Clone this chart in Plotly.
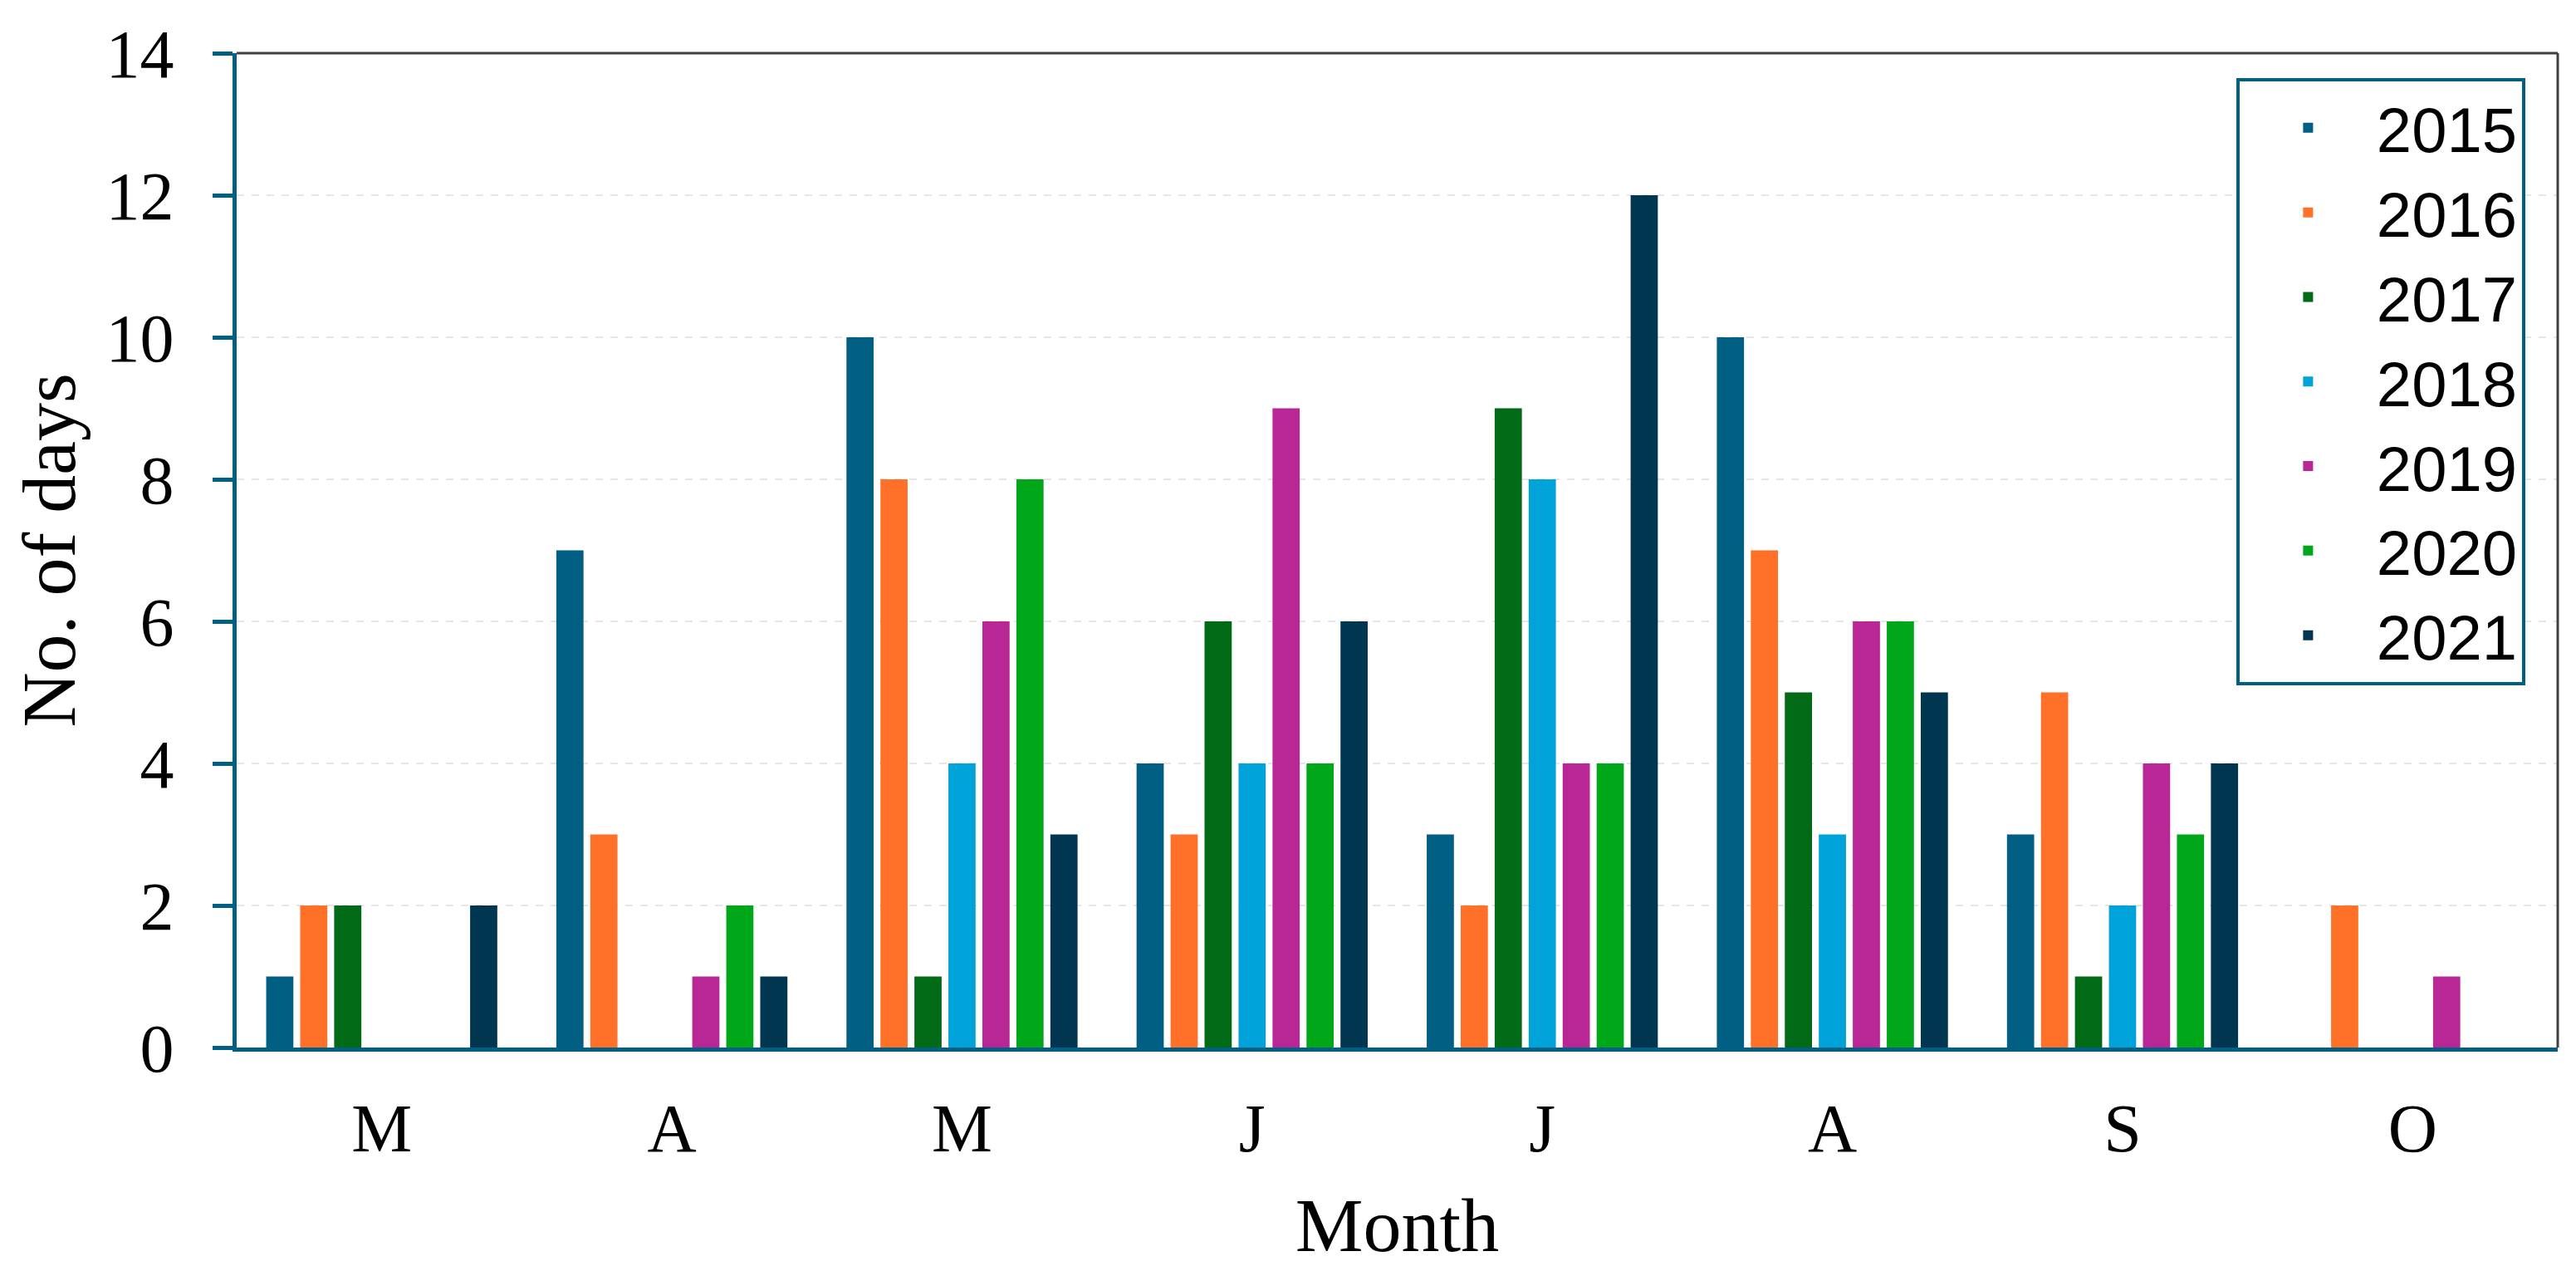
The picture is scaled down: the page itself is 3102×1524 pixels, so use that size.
import plotly.graph_objects as go

months = ["M", "A", "M", "J", "J", "A", "S", "O"]
years = ["2015", "2016", "2017", "2018", "2019", "2020", "2021"]
v2015 = [1, 7, 10, 4, 3, 10, 3, 0]
v2016 = [2, 3, 8, 3, 2, 7, 5, 2]
v2017 = [2, 0, 1, 6, 9, 5, 1, 0]
v2018 = [0, 0, 4, 4, 8, 3, 2, 0]
v2019 = [0, 1, 6, 9, 4, 6, 4, 1]
v2020 = [0, 2, 8, 4, 4, 6, 3, 0]
v2021 = [2, 1, 3, 6, 12, 5, 4, 0]
series = [v2015, v2016, v2017, v2018, v2019, v2020, v2021]
colors = ["#005f83", "#ff7029", "#006a16", "#00a3d9", "#b92696", "#00a819", "#00364f"]

x = list(range(len(months)))
serif = "Liberation Serif, Times New Roman, serif"

fig = go.Figure()
for yr, vals, c in zip(years, series, colors):
    fig.add_trace(go.Bar(
        x=x, y=vals, name=yr,
        marker=dict(color=c, line=dict(width=0)),
    ))

fig.update_layout(
    width=3102, height=1524,
    barmode="group", bargap=0.18, bargroupgap=0.2,
    plot_bgcolor="white", paper_bgcolor="white",
    margin=dict(l=277, r=30, t=48, b=271),
    font=dict(family=serif, color="black"),
    legend=dict(
        x=0.986, y=0.975, xanchor="right", yanchor="top",
        bordercolor="#005f83", borderwidth=4, bgcolor="white",
        font=dict(family="Liberation Sans, Arial, sans-serif", size=76, color="black"),
        tracegroupgap=0, itemwidth=155,
    ),
    xaxis=dict(
        range=[-0.5, 7.5], tickmode="array", tickvals=x, ticktext=months,
        showline=True, linecolor="#005f83", linewidth=5,
        ticks="", showgrid=False, zeroline=False,
        ticklabelstandoff=22,
        tickfont=dict(size=82, family=serif),
        title=dict(text="Month", font=dict(size=92, family=serif), standoff=40),
    ),
    yaxis=dict(
        range=[0, 14], dtick=2,
        showline=True, linecolor="#005f83", linewidth=5,
        ticks="outside", ticklen=24, tickwidth=5, tickcolor="#005f83",
        ticklabelstandoff=30,
        showgrid=True, gridcolor="#e6e6e6", gridwidth=2, griddash="dash",
        zeroline=False,
        tickfont=dict(size=82, family=serif),
        title=dict(text="No. of days", font=dict(size=92, family=serif), standoff=22),
    ),
    shapes=[
        dict(type="line", xref="paper", yref="paper", x0=0, x1=1, y0=1, y1=1,
             line=dict(color="#404040", width=3)),
        dict(type="line", xref="paper", yref="paper", x0=1, x1=1, y0=0, y1=1,
             line=dict(color="#404040", width=3)),
    ],
)

fig.write_html("out.html")
